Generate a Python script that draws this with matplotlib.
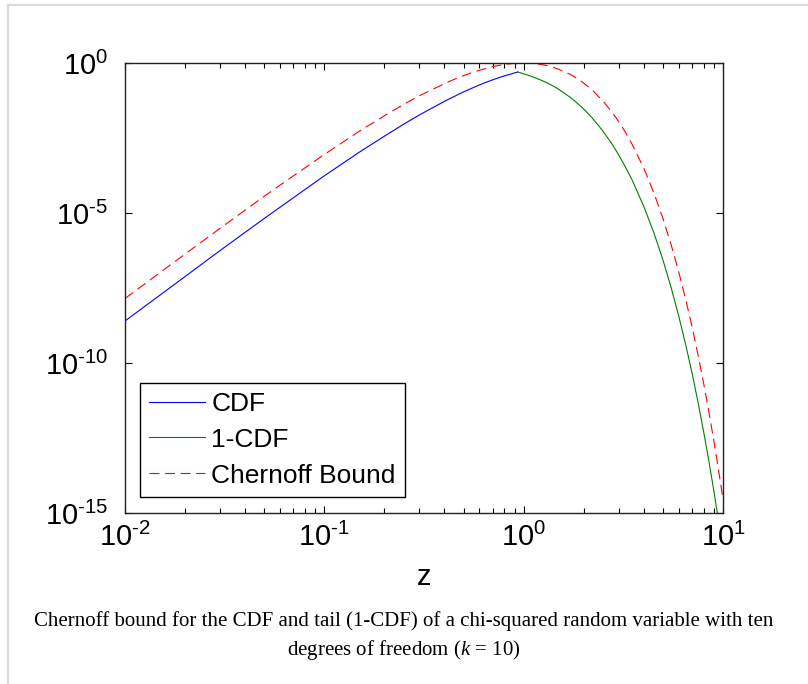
import matplotlib
matplotlib.use('Agg')
import matplotlib.pyplot as plt
from matplotlib.ticker import FixedLocator, FuncFormatter, LogLocator, NullFormatter
from matplotlib.lines import Line2D
import numpy as np

plt.rcParams['font.family'] = ['Liberation Sans', 'DejaVu Sans']
plt.rcParams['mathtext.fontset'] = 'custom'
plt.rcParams['mathtext.rm'] = 'Liberation Sans'
plt.rcParams['mathtext.it'] = 'Liberation Serif:italic'

# values (log10 of probability)
z_cdf = [0.01, 0.02, 0.03, 0.05, 0.07, 0.1, 0.15, 0.2, 0.25, 0.3, 0.4, 0.45, 0.5,
         0.55, 0.6, 0.65, 0.7, 0.75, 0.8, 0.85, 0.9, 0.934]
log_cdf = [-8.60, -7.12, -6.25, -5.18, -4.49, -3.76, -2.97, -2.44, -2.04, -1.73,
           -1.28, -1.11, -0.96, -0.84, -0.73, -0.64, -0.56, -0.49, -0.43, -0.38,
           -0.33, -0.30]

z_tail = [0.934, 1.0, 1.1, 1.2, 1.3, 1.4, 1.5, 1.7, 1.8, 2.0, 2.2, 2.5, 2.8, 3.0,
          3.2, 3.5, 4.0, 4.5, 5.0, 5.5, 6.0, 6.5, 7.0, 7.5, 8.0, 8.5, 9.0, 9.5, 10.0]
log_tail = [-0.30, -0.36, -0.45, -0.55, -0.65, -0.76, -0.88, -1.13, -1.26, -1.53,
            -1.82, -2.27, -2.74, -3.07, -3.40, -3.90, -4.77, -5.66, -6.57, -7.50,
            -8.44, -9.39, -10.35, -11.32, -12.30, -13.28, -14.27, -15.27, -16.26]

z_bound = [0.01, 0.02, 0.03, 0.05, 0.07, 0.1, 0.15, 0.2, 0.25, 0.3, 0.4, 0.45, 0.5,
           0.55, 0.6, 0.65, 0.7, 0.75, 0.8, 0.85, 0.9, 0.95, 1.0, 1.05, 1.1, 1.2,
           1.3, 1.4, 1.5, 1.7, 1.8, 2.0, 2.2, 2.5, 2.8, 3.0, 3.2, 3.5, 4.0, 4.5,
           5.0, 5.5, 6.0, 6.5, 7.0, 7.5, 8.0, 8.5, 9.0, 9.5, 10.0]
log_bound = [-7.85, -6.37, -5.51, -4.44, -3.76, -3.05, -2.27, -1.76, -1.38, -1.09,
             -0.69, -0.54, -0.42, -0.32, -0.24, -0.18, -0.12, -0.08, -0.05, -0.03,
             -0.01, -0.003, 0.0, -0.003, -0.01, -0.04, -0.08, -0.14, -0.21, -0.37,
             -0.46, -0.67, -0.89, -1.27, -1.67, -1.96, -2.25, -2.71, -3.50, -4.33,
             -5.19, -6.07, -6.97, -7.88, -8.80, -9.74, -10.69, -11.64, -12.60,
             -13.57, -14.54]

y_major = [1e-15, 1e-10, 1e-5, 1e0]
caption_1 = 'Chernoff bound for the CDF and tail (1-CDF) of a chi-squared random variable with ten'
caption_2 = 'degrees of freedom ($\\mathit{k}$ = 10)'

fig = plt.figure(figsize=(8.08, 6.84), dpi=100)
ax = fig.add_axes([125 / 808, 1 - 513 / 684, 598 / 808, 450 / 684])

ax.plot(z_cdf, 10 ** np.array(log_cdf), color='#0000ff', lw=0.8, label='CDF')
ax.plot(z_tail, 10 ** np.array(log_tail), color='#008000', lw=0.8, label='1-CDF')
ax.plot(z_bound, 10 ** np.array(log_bound), color='#ff0000', lw=0.8,
        dashes=(9, 5), label='Chernoff Bound')

ax.set_xscale('log')
ax.set_yscale('log')
ax.set_xlim(1e-2, 1e1)
ax.set_ylim(1e-15, 1e0)

ax.yaxis.set_major_locator(FixedLocator(y_major))
ax.yaxis.set_minor_locator(FixedLocator([]))
ax.xaxis.set_major_locator(LogLocator(base=10))
ax.xaxis.set_minor_locator(LogLocator(base=10, subs=np.arange(2, 10)))
ax.xaxis.set_minor_formatter(NullFormatter())


def dec_label(v, pos):
    e = int(round(np.log10(v)))
    s = str(abs(e))
    if e < 0:
        s = '\u2010' + s
    return '$\\mathregular{10^{%s}}$' % s


fmt = FuncFormatter(dec_label)
ax.xaxis.set_major_formatter(fmt)
ax.yaxis.set_major_formatter(fmt)

ax.tick_params(which='both', direction='in', top=True, right=True, labelsize=21, width=0.8)
ax.tick_params(which='major', length=5)
ax.tick_params(which='minor', length=3.5)
ax.tick_params(axis='x', pad=7)
ax.tick_params(axis='y', pad=12)
for sp in ax.spines.values():
    sp.set_linewidth(1.0)
    sp.set_color('#222222')

ax.set_xlabel('z', fontsize=21, labelpad=8)

leg = ax.legend(loc='lower left', bbox_to_anchor=(0.025, 0.036), borderaxespad=0,
                fontsize=19, fancybox=False, framealpha=1, edgecolor='black',
                handlelength=2.1, handletextpad=0.25, labelspacing=0.45, borderpad=0.35)
leg.get_frame().set_linewidth(1.0)

fig.text(0.5, 1 - 621 / 684, caption_1, ha='center', va='center', fontsize=15,
         family='Liberation Serif')
fig.text(0.5, 1 - 650 / 684, caption_2, ha='center', va='center', fontsize=15,
         family='Liberation Serif')

# light frame of the page
fig.add_artist(Line2D([8 / 808, 8 / 808], [0, 1 - 5 / 684], transform=fig.transFigure,
                      color='#dcdcdc', lw=1.6))
fig.add_artist(Line2D([8 / 808, 1], [1 - 5 / 684, 1 - 5 / 684], transform=fig.transFigure,
                      color='#dcdcdc', lw=1.6))

fig.savefig('out.png', dpi=100)
